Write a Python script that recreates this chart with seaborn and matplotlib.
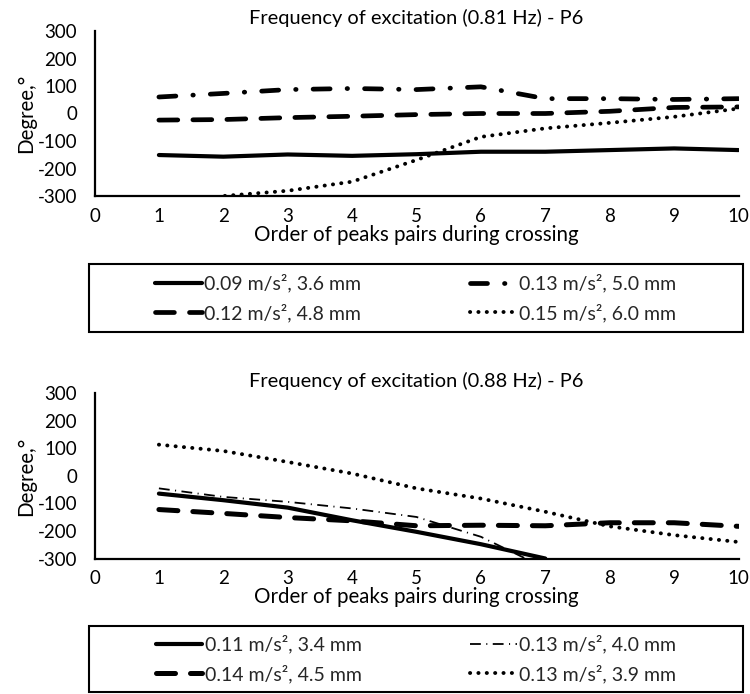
import numpy as np
import pandas as pd
import matplotlib
matplotlib.use("Agg")
import matplotlib.pyplot as plt
from matplotlib.patches import Rectangle
import seaborn as sns

# ---------------- data ----------------
order = [1, 2, 3, 4, 5, 6, 7, 8, 9, 10]

# 0.81 Hz panel
top_labels = ["0.09 m/s², 3.6 mm", "0.12 m/s², 4.8 mm",
              "0.13 m/s², 5.0 mm", "0.15 m/s², 6.0 mm"]
top_a = [-151, -157, -149, -154, -148, -139, -139, -133, -127, -133]
top_b = [-24, -22, -15, -10, -4, 0, 0, 8, 22, 24]
top_c = [60, 73, 87, 91, 87, 97, 54, 54, 51, 54]
top_d = [-340, -300, -281, -248, -169, -85, -54, -34, -12, 18]

# 0.88 Hz panel
bot_labels = ["0.11 m/s², 3.4 mm", "0.14 m/s², 4.5 mm",
              "0.13 m/s², 4.0 mm", "0.13 m/s², 3.9 mm"]
bot_order_a = [1, 2, 3, 4, 5, 6, 7]
bot_a = [-64, -88, -115, -161, -203, -248, -300]
bot_order_c = [1, 2, 3, 4, 5, 6, 7]
bot_c = [-45, -76, -94, -118, -149, -221, -335]
bot_b = [-122, -136, -151, -163, -181, -179, -181, -170, -170, -183]
bot_d = [114, 91, 51, 9, -45, -82, -130, -183, -215, -240]

titles = ["Frequency of excitation (0.81 Hz) - P6",
          "Frequency of excitation (0.88 Hz) - P6"]
xlabel = "Order of peaks pairs during crossing"
ylabel = "Degree,°"
yticks = [-300, -200, -100, 0, 100, 200, 300]
xticks = [0, 1, 2, 3, 4, 5, 6, 7, 8, 9, 10]

# ---------------- style ----------------
sns.set_theme(style="white")
plt.rcParams["font.family"] = ["Lato", "DejaVu Sans"]
FS_TITLE = 14.4
FS_TICK = 13.5
FS_LEG = 14.0

fig = plt.figure(figsize=(7.5, 6.94), dpi=100)
W, H = 750.0, 694.0


def ax_rect(x0, x1, ytop, ybot):
    return [x0 / W, 1 - ybot / H, (x1 - x0) / W, (ybot - ytop) / H]


ax1 = fig.add_axes(ax_rect(94.5, 738.5, 31, 196))
ax2 = fig.add_axes(ax_rect(94.5, 738.5, 393.5, 558.5))

styles_top = [
    dict(lw=3.0, ls="-", cap="butt"),
    dict(lw=3.4, ls=(0, (4.0, 3.2)), cap="round"),
    dict(lw=3.4, ls=(0, (3.6, 3.6, 0.1, 3.6)), cap="round"),
    dict(lw=2.8, ls=(0, (0.05, 2.1)), cap="round"),
]
styles_bot = [
    dict(lw=3.0, ls="-", cap="butt"),
    dict(lw=3.6, ls=(0, (3.8, 3.0)), cap="round"),
    dict(lw=1.3, ls=(0, (6.0, 3.0, 0.6, 3.0)), cap="butt"),
    dict(lw=2.8, ls=(0, (0.05, 2.1)), cap="round"),
]


def draw(ax, xs_list, ys_list, labels, styles):
    handles = []
    for xs, ys, lab, st in zip(xs_list, ys_list, labels, styles):
        df = pd.DataFrame({"x": xs, "y": ys})
        n0 = len(ax.lines)
        sns.lineplot(data=df, x="x", y="y", ax=ax, color="black",
                     linewidth=st["lw"], legend=False)
        ln = ax.lines[n0]
        ln.set_linestyle(st["ls"])
        ln.set_dash_capstyle(st["cap"])
        ln.set_solid_capstyle("round")
        ln.set_label(lab)
        handles.append(ln)
    return handles


h1 = draw(ax1, [order, order, order, order],
          [top_a, top_b, top_c, top_d], top_labels, styles_top)
h2 = draw(ax2, [bot_order_a, order, bot_order_c, order],
          [bot_a, bot_b, bot_c, bot_d], bot_labels, styles_bot)

for ax, title in zip([ax1, ax2], titles):
    ax.set_xlim(0, 10)
    ax.set_ylim(-300, 300)
    ax.set_xticks(xticks)
    ax.set_yticks(yticks)
    ax.set_xticklabels([str(t) for t in xticks])
    ax.set_yticklabels([str(t) for t in yticks])
    for s in ["top", "right"]:
        ax.spines[s].set_visible(False)
    for s in ["left", "bottom"]:
        ax.spines[s].set_linewidth(1.6)
        ax.spines[s].set_color("black")
        ax.spines[s].set_zorder(1)
    ax.tick_params(axis="both", direction="inout", length=9, width=1.6,
                   color="black", labelsize=FS_TICK, labelcolor="black")
    ax.tick_params(axis="y", pad=8)
    ax.tick_params(axis="x", pad=4)
    ax.set_xlabel(xlabel, fontsize=FS_TITLE + 0.4, color="black", labelpad=0)
    ax.set_ylabel(ylabel, fontsize=FS_TITLE + 0.4, color="black", labelpad=1)
    ax.set_title(title, fontsize=FS_TITLE, color="black", pad=5)
    ax.set_facecolor("white")
    ax.grid(False)
    for ln in ax.lines:
        ln.set_clip_on(True)


def legend_box(handles, ytop, ybot):
    x0, x1 = 89.0, 743.0
    fig.add_artist(Rectangle((x0 / W, 1 - ybot / H), (x1 - x0) / W,
                             (ybot - ytop) / H, transform=fig.transFigure,
                             fill=False, edgecolor="black", lw=1.5))
    cx = (x0 + x1) / 2 / W
    cy = 1 - (ytop + ybot) / 2 / H
    fig.legend(handles=handles, loc="center", bbox_to_anchor=(cx, cy),
               ncol=2, frameon=False, fontsize=FS_LEG, handlelength=2.4,
               handletextpad=0.12, columnspacing=5.6, labelspacing=0.55,
               borderpad=0.0)


legend_box(h1, 264, 332)
legend_box(h2, 626, 692)

fig.savefig("out.png", dpi=100, facecolor="white")
